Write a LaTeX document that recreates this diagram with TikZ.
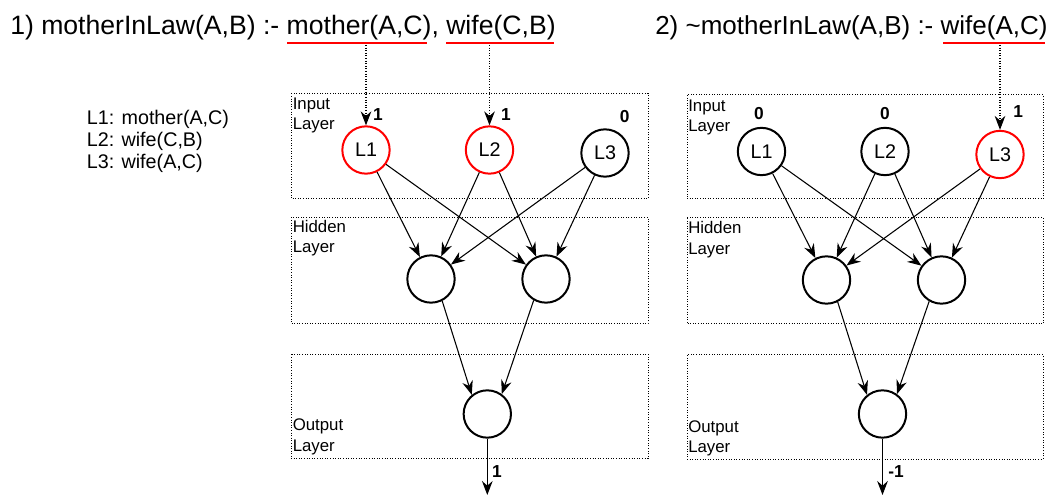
\documentclass[tikz,border=0pt]{standalone}
\usepackage{fontspec}
\setmainfont{Liberation Sans}
\usetikzlibrary{arrows.meta}
\definecolor{redline}{HTML}{FF0000}
\tikzset{
  neuron/.style={circle, draw=black, line width=1.5pt, minimum size=35.5pt, inner sep=0pt, font=\fontsize{14.8}{17}\selectfont},
  active/.style={neuron, draw=redline},
  layerbox/.style={draw, line width=0.75pt, dash pattern=on 0.75pt off 1.2pt},
  layerlabel/.style={anchor=base west, inner sep=0pt, font=\fontsize{12.6}{15}\selectfont},
  val/.style={anchor=base, inner sep=0pt, font=\bfseries\fontsize{13}{15}\selectfont},
  link/.style={line width=0.8pt, -{Stealth[length=10.5pt,width=8pt,inset=3.5pt]}},
  feed/.style={link, dash pattern=on 0.75pt off 1.2pt},
  uline/.style={draw=redline, line width=1.5pt},
  legend/.style={anchor=base west, inner sep=0pt, font=\fontsize{14.8}{17}\selectfont},
  title/.style={anchor=base west, inner sep=0pt},
}
\begin{document}
\begin{tikzpicture}[x=0.75pt, y=-0.75pt]
\useasboundingbox (0,0) rectangle (1057,495);

% titles
\node[title, font=\fontsize{19.95}{24}\selectfont] (t1) at (10,35) {1) motherInLaw(A,B) :- mother(A,C), wife(C,B)};
\node[title, font=\fontsize{19.5}{24}\selectfont] (t2) at (655,35) {2) \textasciitilde motherInLaw(A,B) :- wife(A,C)};
\draw[uline] (287,43.5) -- (427,43.5);
\draw[uline] (446,43.5) -- (554,43.5);
\draw[uline] (943,43.5) -- (1045,43.5);

% legend
\node[legend] (lg1) at (86.6,125) {L1: mother(A,C)};
\node[legend] (lg2) at (86.6,146.7) {L2: wife(C,B)};
\node[legend] (lg3) at (86.6,168.3) {L3: wife(A,C)};

% ---------- panel 1 ----------
\draw[layerbox] (291,93.5) rectangle (648,198.5);
\draw[layerbox] (291,217.5) rectangle (648,323.5);
\draw[layerbox] (291,354.5) rectangle (648,458.5);
\node[layerlabel] (p1in1) at (292.5,109.3) {Input};
\node[layerlabel] (p1in2) at (292.5,130) {Layer};
\node[layerlabel] (p1hd1) at (292.5,232.3) {Hidden};
\node[layerlabel] (p1hd2) at (292.5,252.7) {Layer};
\node[layerlabel] (p1ou1) at (292.5,430.7) {Output};
\node[layerlabel] (p1ou2) at (292.5,451) {Layer};

\node[active] (a1) at (366,150) {L1};
\node[active] (a2) at (489.5,150) {L2};
\node[neuron] (a3) at (605,153) {L3};
\node[neuron] (ah1) at (431,279) {};
\node[neuron] (ah2) at (546,279) {};
\node[neuron] (ao) at (487.3,414) {};

\node[val] (av1) at (378,120.5) {1};
\node[val] (av2) at (506,120.5) {1};
\node[val] (av3) at (624.7,122.7) {0};
\node[val] (avo) at (497,477.5) {1};

\coordinate (au1) at (366,45);
\coordinate (au2) at (489.5,45);
\coordinate (aend) at (487.3,495);
\draw[feed] (au1) -- (a1);
\draw[feed] (au2) -- (a2);

\draw[link] (a1) -- (ah1);
\draw[link] (a1) -- (ah2);
\draw[link] (a2) -- (ah1);
\draw[link] (a2) -- (ah2);
\draw[link] (a3) -- (ah1);
\draw[link] (a3) -- (ah2);
\draw[link] (ah1.-63) -- (ao.129);
\draw[link] (ah2.240) -- (ao.54);
\draw[link] (ao) -- (aend);

% ---------- panel 2 ----------
\draw[layerbox] (687,95) rectangle (1043,199);
\draw[layerbox] (687,218) rectangle (1043,324);
\draw[layerbox] (687,355) rectangle (1043,459);
\node[layerlabel] (p2in1) at (688,111.3) {Input};
\node[layerlabel] (p2in2) at (688,132) {Layer};
\node[layerlabel] (p2hd1) at (688,233.8) {Hidden};
\node[layerlabel] (p2hd2) at (688,254.2) {Layer};
\node[layerlabel] (p2ou1) at (688,432.2) {Output};
\node[layerlabel] (p2ou2) at (688,452.5) {Layer};

\node[neuron] (b1) at (761.5,151.5) {L1};
\node[neuron] (b2) at (885,151.5) {L2};
\node[active] (b3) at (1000,154.5) {L3};
\node[neuron] (bh1) at (826.5,280) {};
\node[neuron] (bh2) at (941.5,280) {};
\node[neuron] (bo) at (882.5,414) {};

\node[val] (bv1) at (759,119.3) {0};
\node[val] (bv2) at (885,119.3) {0};
\node[val] (bv3) at (1018.3,117.7) {1};
\node[val] (bvo) at (896,477.5) {-1};

\coordinate (bu3) at (1000,45);
\coordinate (bend) at (882.5,495);
\draw[feed] (bu3) -- (b3);

\draw[link] (b1) -- (bh1);
\draw[link] (b1) -- (bh2);
\draw[link] (b2) -- (bh1);
\draw[link] (b2) -- (bh2);
\draw[link] (b3) -- (bh1);
\draw[link] (b3) -- (bh2);
\draw[link] (bh1.-63) -- (bo.129);
\draw[link] (bh2.240) -- (bo.54);
\draw[link] (bo) -- (bend);
\end{tikzpicture}
\end{document}
